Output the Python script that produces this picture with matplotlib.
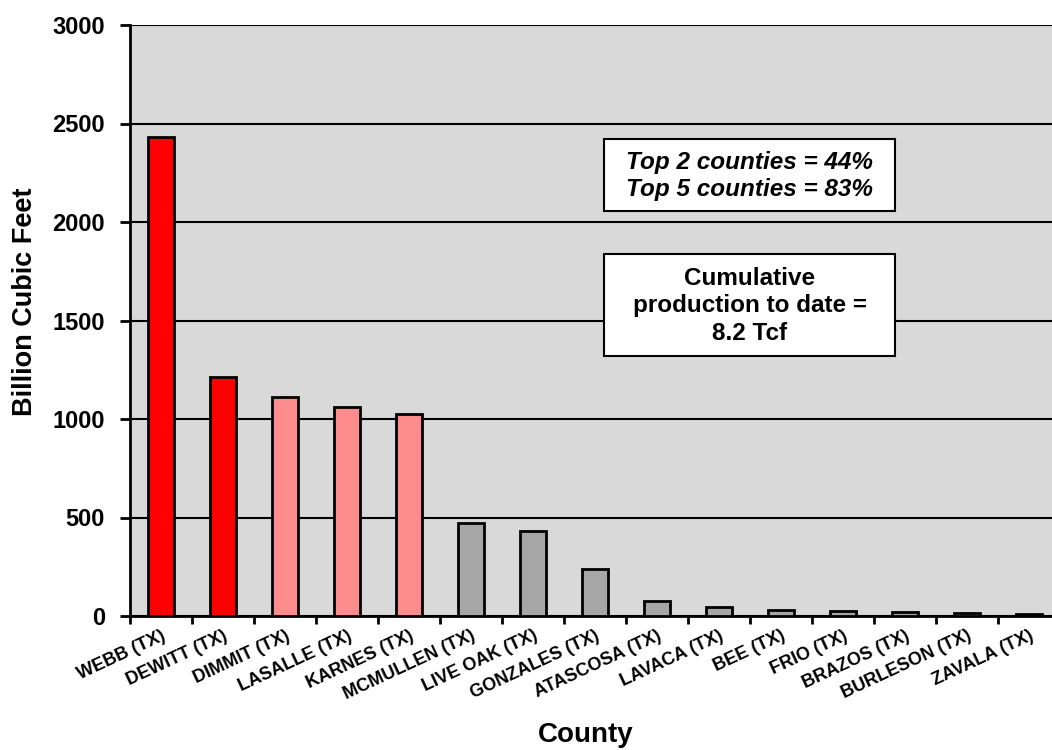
import numpy as np
import matplotlib.pyplot as plt
from matplotlib.patches import Rectangle

plt.rcParams['font.family'] = ['Liberation Sans', 'DejaVu Sans']
plt.rcParams['font.weight'] = 'bold'

## cumulative gas production by county, billion cubic feet
counties = ['WEBB (TX)', 'DEWITT (TX)', 'DIMMIT (TX)', 'LASALLE (TX)', 'KARNES (TX)',
            'MCMULLEN (TX)', 'LIVE OAK (TX)', 'GONZALES (TX)', 'ATASCOSA (TX)',
            'LAVACA (TX)', 'BEE (TX)', 'FRIO (TX)', 'BRAZOS (TX)', 'BURLESON (TX)',
            'ZAVALA (TX)']
production = [2430, 1215, 1110, 1062, 1023, 474, 433, 237, 75, 47, 30, 27, 22, 17, 12]
## top 2, next 3, the rest
colors = ['#FF0000'] * 2 + ['#FF8C8C'] * 3 + ['#A6A6A6'] * 10

W, H = 1052, 750
fig = plt.figure(figsize=(W/100, H/100), dpi=100)
ax = fig.add_axes([130/W, 134/H, 930/W, 591/H])
ax.set_facecolor('#D9D9D9')

x = np.arange(len(counties))
ax.bar(x, production, width=0.41, color=colors, edgecolor='black', linewidth=2, zorder=3)

ax.set_xlim(-0.5, len(counties) - 0.5)
ax.set_ylim(0, 3000)
ax.set_yticks(np.arange(0, 3001, 500))
ax.yaxis.grid(True, color='black', linewidth=1.5, zorder=0)
ax.set_axisbelow(True)

## ticks sit between the categories
ax.set_xticks(np.arange(-0.5, len(counties), 1.0))
ax.set_xticklabels([])
ax.set_xticks(x, minor=True)
ax.set_xticklabels(counties, minor=True, rotation=25, ha='right',
                   rotation_mode='anchor', fontsize=13, fontweight='bold')
ax.tick_params(axis='x', which='minor', length=0, pad=8)
ax.tick_params(axis='x', which='major', length=6, width=2, direction='out')
ax.tick_params(axis='y', length=7, width=2, labelsize=17, pad=11)

for s in ['top', 'right']:
    ax.spines[s].set_visible(False)
for s in ['left', 'bottom']:
    ax.spines[s].set_linewidth(2)

fig.text(25/W, 1 - 302/H, 'Billion Cubic Feet', fontsize=19.5, fontweight='bold',
         rotation=90, ha='center', va='center')
fig.text(586/W, 1 - 735/H, 'County', fontsize=20, fontweight='bold',
         ha='center', va='center')

## annotation boxes
for (x0, y0, x1, y1) in [(604, 139, 895, 211), (604, 254, 895, 356)]:
    fig.patches.append(Rectangle((x0/W, 1 - y1/H), (x1 - x0)/W, (y1 - y0)/H,
                                 transform=fig.transFigure, facecolor='white',
                                 edgecolor='black', linewidth=1.5, zorder=5))
fig.text(750/W, 1 - 176/H, 'Top 2 counties = 44%\nTop 5 counties = 83%',
         fontsize=17.5, fontweight='bold', style='italic', ha='center', va='center',
         linespacing=1.25, zorder=6)
fig.text(750/W, 1 - 306/H, 'Cumulative\nproduction to date =\n8.2 Tcf',
         fontsize=17.5, fontweight='bold', ha='center', va='center',
         linespacing=1.25, zorder=6)

fig.savefig('out.png', dpi=100)
